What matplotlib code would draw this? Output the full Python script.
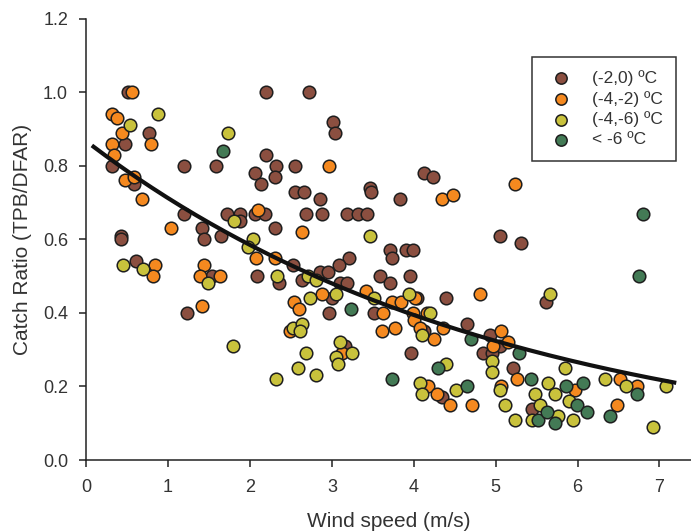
import numpy as np
import matplotlib
matplotlib.use("Agg")
import matplotlib.pyplot as plt

plt.rcParams['font.family'] = ['Liberation Sans', 'DejaVu Sans']

# ── Data (wind speed m/s, catch ratio) ───────────────────────────────────
x_m2_0 = [0.51, 2.20, 2.72, 0.77, 0.47, 2.20, 0.32, 1.19, 1.58, 2.32, 0.58, 2.06,
          2.31, 2.13, 1.20, 1.72, 1.88, 2.06, 2.18, 1.88, 1.41, 1.44, 2.30, 0.42,
          0.42, 1.65, 0.61, 3.01, 3.04, 2.55, 4.12, 4.23, 2.55, 2.66, 2.86, 3.46,
          3.48, 3.83, 2.68, 2.88, 3.18, 3.32, 3.43, 3.71, 3.74, 3.91, 3.99, 3.21,
          3.09, 2.52, 2.85, 2.95, 5.05, 5.31, 3.59, 3.71, 3.95, 4.39, 5.61, 4.04,
          3.51, 4.12, 4.65, 4.93, 5.05, 3.97, 4.84, 4.95, 5.21, 4.35, 5.44, 1.54,
          2.09, 2.35, 1.23, 2.64, 3.10, 3.18, 3.00, 2.96, 3.16]
y_m2_0 = [1.00, 1.00, 1.00, 0.89, 0.86, 0.83, 0.80, 0.80, 0.80, 0.80, 0.75, 0.78,
          0.77, 0.75, 0.67, 0.67, 0.67, 0.67, 0.67, 0.65, 0.63, 0.60, 0.63, 0.61,
          0.60, 0.61, 0.54, 0.92, 0.89, 0.80, 0.78, 0.77, 0.73, 0.73, 0.71, 0.74,
          0.73, 0.71, 0.67, 0.67, 0.67, 0.67, 0.67, 0.57, 0.55, 0.57, 0.57, 0.55,
          0.53, 0.53, 0.51, 0.51, 0.61, 0.59, 0.50, 0.48, 0.50, 0.44, 0.43, 0.44,
          0.40, 0.35, 0.37, 0.34, 0.31, 0.29, 0.29, 0.29, 0.25, 0.17, 0.14, 0.50,
          0.50, 0.48, 0.40, 0.49, 0.48, 0.48, 0.44, 0.40, 0.31]

x_m4_m2 = [0.56, 0.32, 0.38, 0.44, 0.32, 0.79, 0.34, 0.48, 0.58, 0.68, 2.10, 1.03,
           2.07, 2.30, 0.84, 1.44, 2.97, 4.34, 4.48, 2.64, 5.24, 3.42, 4.81, 3.74,
           3.84, 4.01, 3.62, 3.99, 4.16, 4.00, 4.07, 4.36, 3.61, 3.77, 4.25, 5.07,
           5.15, 4.97, 5.26, 6.52, 6.72, 4.17, 4.28, 4.44, 4.71, 5.07, 5.97, 6.48,
           0.82, 1.39, 1.63, 1.41, 2.88, 2.54, 2.60, 2.49, 3.12]
y_m4_m2 = [1.00, 0.94, 0.93, 0.89, 0.86, 0.86, 0.83, 0.76, 0.77, 0.71, 0.68, 0.63,
           0.55, 0.55, 0.53, 0.53, 0.80, 0.71, 0.72, 0.62, 0.75, 0.46, 0.45, 0.43,
           0.43, 0.44, 0.40, 0.40, 0.40, 0.38, 0.36, 0.36, 0.35, 0.36, 0.33, 0.35,
           0.32, 0.31, 0.22, 0.22, 0.20, 0.20, 0.18, 0.15, 0.15, 0.20, 0.19, 0.15,
           0.50, 0.50, 0.50, 0.42, 0.45, 0.43, 0.41, 0.35, 0.29]

x_m4_m6 = [0.88, 0.53, 1.73, 1.81, 2.04, 1.98, 0.45, 0.70, 3.47, 3.51, 5.66, 3.94,
           4.20, 4.10, 4.96, 4.95, 4.39, 5.85, 6.34, 6.59, 7.08, 4.08, 4.10, 4.52,
           5.05, 5.11, 5.64, 5.48, 5.72, 5.90, 5.54, 5.24, 5.44, 5.76, 5.95, 6.92,
           1.49, 2.33, 1.79, 2.32, 2.71, 2.81, 3.05, 2.73, 2.53, 2.63, 2.61, 3.10,
           3.05, 3.25, 3.07, 2.68, 2.59, 2.81]
y_m4_m6 = [0.94, 0.91, 0.89, 0.65, 0.60, 0.58, 0.53, 0.52, 0.61, 0.44, 0.45, 0.45,
           0.40, 0.34, 0.27, 0.24, 0.26, 0.25, 0.22, 0.20, 0.20, 0.21, 0.18, 0.19,
           0.19, 0.15, 0.21, 0.18, 0.18, 0.16, 0.15, 0.11, 0.11, 0.12, 0.11, 0.09,
           0.48, 0.50, 0.31, 0.22, 0.50, 0.49, 0.45, 0.44, 0.36, 0.37, 0.35, 0.32,
           0.28, 0.29, 0.26, 0.29, 0.25, 0.23]

x_lt_m6 = [1.67, 6.80, 6.75, 3.23, 4.70, 5.28, 4.29, 3.73, 5.43, 6.73, 4.65, 5.86,
           6.07, 5.99, 5.52, 5.63, 5.72, 6.12, 6.40]
y_lt_m6 = [0.84, 0.67, 0.50, 0.41, 0.33, 0.29, 0.25, 0.22, 0.22, 0.18, 0.20, 0.20,
           0.21, 0.15, 0.11, 0.13, 0.10, 0.13, 0.12]

groups = [
    ("(-2,0) ºC", x_m2_0, y_m2_0, '#8b4f40'),
    ("(-4,-2) ºC", x_m4_m2, y_m4_m2, '#f5891f'),
    ("(-4,-6) ºC", x_m4_m6, y_m4_m6, '#c9c23c'),
    ("< -6 ºC", x_lt_m6, y_lt_m6, '#437a55'),
]

# exponential fit drawn on the plot
fit_a, fit_b = 0.867, 0.197
x_fit = np.linspace(0.09, 7.18, 200)
y_fit = fit_a * np.exp(-fit_b * x_fit)

# ── Figure ────────────────────────────────────────────────────────────────
fig = plt.figure(figsize=(6.91, 5.32), dpi=100)
ax = fig.add_axes([0.1247, 0.1353, 0.8753, 0.8297])

for label, xs, ys, col in groups:
    ax.scatter(xs, ys, s=82, c=col, edgecolors='#1e1e1e', linewidths=1.1,
               label=label, zorder=3)

ax.plot(x_fit, y_fit, color='#111111', lw=3, zorder=4)

ax.set_xlim(0, 7.385)
ax.set_ylim(0, 1.2)
ax.set_xticks(range(0, 8))
ax.set_yticks(np.arange(0, 1.21, 0.2))
ax.set_yticklabels([f"{v:.1f}" for v in np.arange(0, 1.21, 0.2)])

for s in ['top', 'right']:
    ax.spines[s].set_visible(False)
for s in ['left', 'bottom']:
    ax.spines[s].set_linewidth(1.1)
    ax.spines[s].set_color('#222222')

ax.tick_params(direction='out', length=5, width=1.1, labelsize=13,
               colors='#222222', labelcolor='#333333')
ax.tick_params(axis='x', pad=9)
ax.tick_params(axis='y', pad=8)

ax.set_xlabel('Wind speed (m/s)', fontsize=15, color='#333333', labelpad=11)
ax.set_ylabel('Catch Ratio (TPB/DFAR)', fontsize=15, color='#333333', labelpad=8)

leg = ax.legend(loc='upper right', bbox_to_anchor=(0.975, 0.913),
                borderaxespad=0, fontsize=12.5, frameon=True, fancybox=False,
                edgecolor='#333333', framealpha=1, borderpad=0.75,
                labelspacing=0.28, handletextpad=0.9, markerscale=0.9,
                handlelength=1.8)
leg.get_frame().set_linewidth(1.1)
for t in leg.get_texts():
    t.set_color('#333333')

plt.savefig('out.png', dpi=100)
